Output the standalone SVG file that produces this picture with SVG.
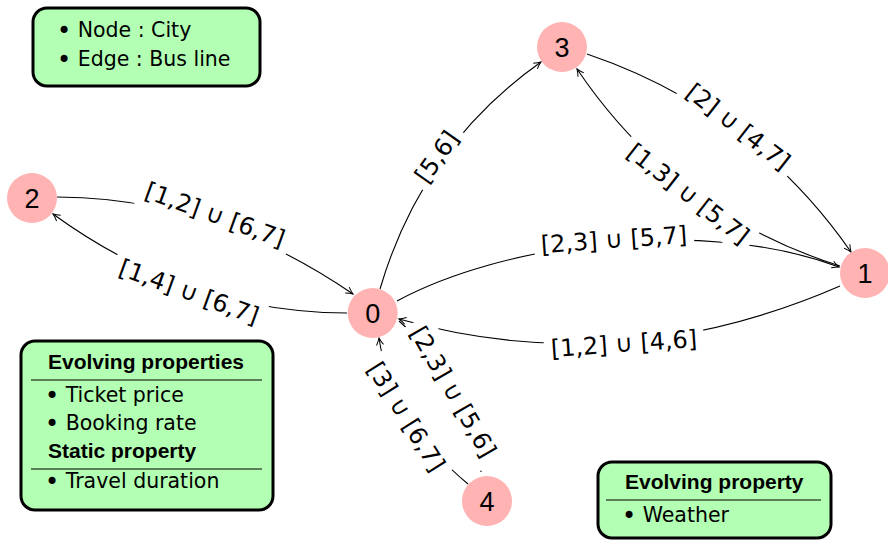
<svg xmlns="http://www.w3.org/2000/svg" width="888" height="540" viewBox="0 0 888 540">
<style>
.edge{fill:none;stroke:#000;stroke-width:1.1;marker-end:url(#arr)}
.plain{fill:none;stroke:#000;stroke-width:1.1}
.lbg{fill:#fff}
.lbl{font-family:"DejaVu Sans","Liberation Sans",sans-serif;font-size:24px;fill:#000;text-anchor:middle}
.node circle{fill:#ffb3b3}
.node text{font-family:"Liberation Sans","DejaVu Sans",sans-serif;font-size:27px;fill:#000;text-anchor:middle}
.box rect{fill:#b3ffb3;stroke:#000;stroke-width:3}
.box line{stroke:#000;stroke-width:1}
.bt{font-family:"DejaVu Sans","Liberation Sans",sans-serif;font-size:20.5px;fill:#000}
.bu{font-size:24px}
.bh{font-family:"Liberation Sans","DejaVu Sans",sans-serif;font-size:21px;font-weight:bold;fill:#000}
</style>
<defs>
<marker id="arr" viewBox="-8 -5 10 10" refX="0" refY="0" markerWidth="10" markerHeight="10" markerUnits="userSpaceOnUse" orient="auto">
<path d="M-7,-3.5 Q-3,-1 0,0 Q-3,1 -7,3.5" fill="none" stroke="#000" stroke-width="1"/>
</marker>
</defs>
<rect width="888" height="540" fill="#fff"/>
<g id="connectors">
<path id="e20" class="edge" d="M57,197 Q211,197 353,294"/>
<path id="e02" class="edge" d="M347,313 Q189,313 53,214"/>
<path id="e03" class="edge" d="M380,289 Q422,146 541,62"/>
<path id="e31" class="edge" d="M587,54 Q752,110 851,252"/>
<path id="e13" class="edge" d="M840,266 Q675,214 577,69"/>
<path id="e01" class="edge" d="M397,301 C500,245 700,215 839,267"/>
<path id="e10" class="edge" d="M840,286 Q620.5,381.5 399,319"/>
<path id="e40" class="edge" d="M468,484 Q391,420 379,338"/>
<path id="e04" class="plain" d="M399,321 Q468,382 481,472"/>
<g id="edge-labels">
<g transform="translate(215,215) rotate(20)"><rect class="lbg" x="-80" y="-19" width="160" height="36"/><text class="lbl" x="0" y="8">[1,2] ∪ [6,7]</text></g>
<g transform="translate(189,292) rotate(20)"><rect class="lbg" x="-80" y="-19" width="160" height="36"/><text class="lbl" x="0" y="8">[1,4] ∪ [6,7]</text></g>
<g transform="translate(437,157) rotate(-55)"><rect class="lbg" x="-35" y="-19" width="70" height="36"/><text class="lbl" x="0" y="8">[5,6]</text></g>
<g transform="translate(738,127) rotate(38)"><rect class="lbg" x="-69" y="-19" width="138" height="36"/><text class="lbl" x="0" y="8">[2] ∪ [4,7]</text></g>
<g transform="translate(688,194) rotate(38)"><rect class="lbg" x="-80" y="-19" width="160" height="36"/><text class="lbl" x="0" y="8">[1,3] ∪ [5,7]</text></g>
<g transform="translate(614,240) rotate(-4)"><rect class="lbg" x="-80" y="-19" width="160" height="36"/><text class="lbl" x="0" y="8">[2,3] ∪ [5,7]</text></g>
<g transform="translate(624,344) rotate(-4)"><rect class="lbg" x="-80" y="-19" width="160" height="36"/><text class="lbl" x="0" y="8">[1,2] ∪ [4,6]</text></g>
<g transform="translate(453,392) rotate(60)"><rect class="lbg" x="-80" y="-19" width="162" height="36"/><text class="lbl" x="0" y="8">[2,3] ∪ [5,6]</text></g>
<g transform="translate(406,417) rotate(58)"><rect class="lbg" x="-69" y="-19" width="138" height="36"/><text class="lbl" x="0" y="8">[3] ∪ [6,7]</text></g>
</g>
</g>
<g id="node0" class="node"><circle cx="372.7" cy="313" r="25"/><text x="372.7" y="323">0</text></g>
<g id="node1" class="node"><circle cx="865" cy="273" r="25"/><text x="865" y="283">1</text></g>
<g id="node2" class="node"><circle cx="32" cy="198" r="25"/><text x="32" y="208">2</text></g>
<g id="node3" class="node"><circle cx="562" cy="47" r="25"/><text x="562" y="57">3</text></g>
<g id="node4" class="node"><circle cx="487" cy="501" r="25"/><text x="487" y="511">4</text></g>
<g id="legend" class="box">
<rect x="33" y="8" width="227" height="78" rx="14"/>
<text class="bt" x="57" y="37"><tspan class="bu" dy="1.5">•</tspan><tspan dy="-1.5"> Node : City</tspan></text>
<text class="bt" x="57" y="66"><tspan class="bu" dy="1.5">•</tspan><tspan dy="-1.5"> Edge : Bus line</tspan></text>
</g>
<g id="edge-properties" class="box">
<rect x="21" y="341" width="252" height="169" rx="14"/>
<text class="bh" x="48" y="369">Evolving properties</text>
<line x1="31" y1="380" x2="262" y2="380"/>
<text class="bt" x="45" y="402"><tspan class="bu" dy="1.5">•</tspan><tspan dy="-1.5"> Ticket price</tspan></text>
<text class="bt" x="45" y="430"><tspan class="bu" dy="1.5">•</tspan><tspan dy="-1.5"> Booking rate</tspan></text>
<text class="bh" x="48" y="458">Static property</text>
<line x1="31" y1="469" x2="262" y2="469"/>
<text class="bt" x="45" y="488"><tspan class="bu" dy="1.5">•</tspan><tspan dy="-1.5"> Travel duration</tspan></text>
</g>
<g id="node-properties" class="box">
<rect x="598" y="462" width="233" height="76" rx="14"/>
<text class="bh" x="625" y="489">Evolving property</text>
<line x1="606" y1="500" x2="821" y2="500"/>
<text class="bt" x="622" y="522"><tspan class="bu" dy="1.5">•</tspan><tspan dy="-1.5"> Weather</tspan></text>
</g>
</svg>
